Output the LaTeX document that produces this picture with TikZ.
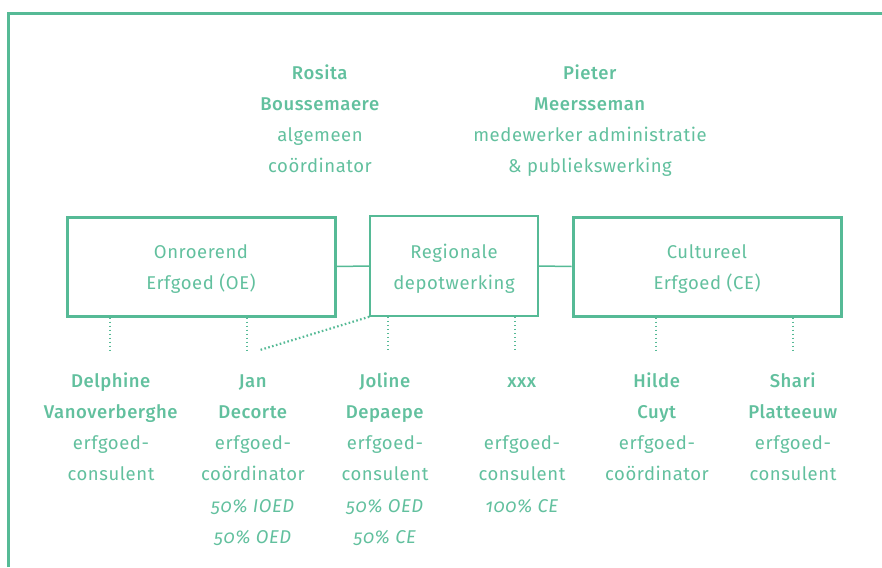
\documentclass[tikz,border=0pt]{standalone}
\usepackage{fontspec}
\setmainfont{Fira Sans}[BoldFont={Fira Sans Medium},ItalicFont={Fira Sans Italic},Numbers=OldStyle,LetterSpace=3]
\definecolor{teal}{RGB}{86,186,150}
\definecolor{tealtext}{RGB}{98,192,158}
\newcommand\fl{\rule{0pt}{20pt}}
\tikzset{
  person/.style={anchor=north,inner sep=0pt,align=center,text=tealtext,
    font=\fontsize{18.5}{31.2}\selectfont},
  unitbox/.style={draw=teal,line width=3pt,minimum width=268pt,minimum height=99pt,inner sep=0pt},
  regbox/.style={draw=teal,line width=1.5pt,minimum width=168pt,minimum height=100pt,inner sep=0pt},
  boxtext/.style={anchor=north,inner sep=0pt,align=center,text=tealtext,
    font=\fontsize{18.5}{31}\selectfont},
  link/.style={draw=teal,line width=1.5pt},
  dotline/.style={draw=teal,line width=2.2pt,dash pattern=on 1.6pt off 2.4pt},
}
\begin{document}
\begin{tikzpicture}[x=1pt,y=-1pt]
\useasboundingbox (0,0) rectangle (882,567);
% frame
\draw[teal,line width=3pt] (8,567) -- (8,14) -- (882,14);
% top persons
\node[person] (rosita) at (320,59) {\fl\textbf{Rosita}\\\textbf{Boussemaere}\\algemeen\\coördinator};
\node[person] (pieter) at (590,59) {\fl\textbf{Pieter}\\\textbf{Meersseman}\\medewerker administratie\\\& publiekswerking};
% boxes
\node[unitbox] (oe) at (201,266.5) {};
\node[regbox] (reg) at (454,266) {};
\node[unitbox] (ce) at (707,266.5) {};
\node[boxtext] (oet) at (201,238) {\fl Onroerend\\Erfgoed (OE)};
\node[boxtext] (regt) at (454,238) {\fl Regionale\\depotwerking};
\node[boxtext] (cet) at (707,238) {\fl Cultureel\\Erfgoed (CE)};
\draw[link] (oe.east) -- (reg.west);
\draw[link] (reg.east) -- (ce.west);
% dotted connectors
\coordinate (c1) at (110,352);
\coordinate (c2) at (247,352);
\coordinate (c3) at (388,352);
\coordinate (c4) at (515,352);
\coordinate (c5) at (656,352);
\coordinate (c6) at (793,352);
\coordinate (c7) at (260,350);
\draw[dotline] (c1 |- oe.south) -- (c1);
\draw[dotline] (c2 |- oe.south) -- (c2);
\draw[dotline] (c3 |- reg.south) -- (c3);
\draw[dotline] (c4 |- reg.south) -- (c4);
\draw[dotline] (c5 |- ce.south) -- (c5);
\draw[dotline] (c6 |- ce.south) -- (c6);
\draw[dotline] (reg.south west) -- (c7);
% bottom persons
\node[person] (delphine) at (111,367) {\fl\textbf{Delphine}\\\textbf{Vanoverberghe}\\erfgoed-\\consulent};
\node[person] (jan) at (253,367) {\fl\textbf{Jan}\\\textbf{Decorte}\\erfgoed-\\coördinator\\\textit{50\% IOED}\\\textit{50\% OED}};
\node[person] (joline) at (385,367) {\fl\textbf{Joline}\\\textbf{Depaepe}\\erfgoed-\\consulent\\\textit{50\% OED}\\\textit{50\% CE}};
\node[person] (xxx) at (522,367) {\fl\textbf{xxx}\\\mbox{}\\erfgoed-\\consulent\\\textit{100\% CE}};
\node[person] (hilde) at (657,367) {\fl\textbf{Hilde}\\\textbf{Cuyt}\\erfgoed-\\coördinator};
\node[person] (shari) at (793,367) {\fl\textbf{Shari}\\\textbf{Platteeuw}\\erfgoed-\\consulent};
\end{tikzpicture}
\end{document}
